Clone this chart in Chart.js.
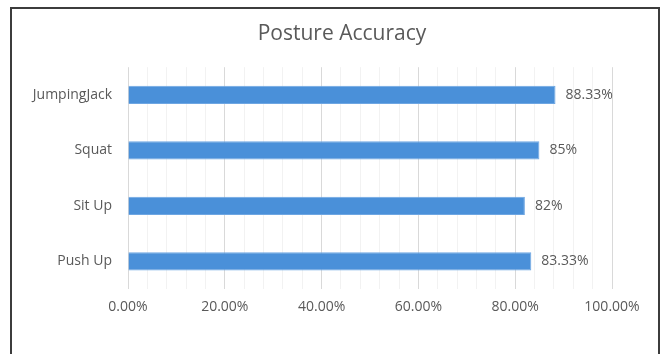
<!DOCTYPE html>
<html>
<head>
<meta charset="utf-8">
<script src="https://cdn.jsdelivr.net/npm/chart.js@4.4.1/dist/chart.umd.min.js"></script>
<style>
    html, body { margin: 0; padding: 0; background: #fff; overflow: hidden; }
    #frame {
        position: absolute; left: 10px; top: 7px; width: 646px; height: 400px;
        border: 2px solid #3c3c3c; border-bottom: none;
    }
    #wrap { position: absolute; left: 0; top: 0; width: 663px; height: 354px; }
</style>
</head>
<body>
<div id="frame"></div>
<div id="wrap"><canvas id="accuracy"></canvas></div>
<script>
const exercises = ['JumpingJack', 'Squat', 'Sit Up', 'Push Up'];
const accuracy = [88.33, 85, 82, 83.33];
const accuracyLabels = ['88.33%', '85%', '82%', '83.33%'];

const textColor = '#595959';
const labelFont = { family: 'Open Sans', size: 14 };

// values written at the end of each bar
const barLabels = {
    id: 'barLabels',
    afterDatasetsDraw(chart) {
        const ctx = chart.ctx;
        const meta = chart.getDatasetMeta(0);
        ctx.save();
        ctx.font = '14px "Open Sans"';
        ctx.fillStyle = textColor;
        ctx.textBaseline = 'middle';
        ctx.textAlign = 'left';
        meta.data.forEach((bar, i) => {
            ctx.fillText(accuracyLabels[i], bar.x + 10, bar.y);
        });
        ctx.restore();
    }
};

// the title is centred on the frame, not on the padded layout width
const titleShift = {
    id: 'titleShift',
    afterLayout(chart) {
        if (chart.titleBlock) {
            chart.titleBlock.left = 21;
            chart.titleBlock.right = chart.width;
        }
    }
};

new Chart(document.getElementById('accuracy'), {
    type: 'bar',
    data: {
        labels: exercises,
        datasets: [{
            label: 'Accuracy',
            data: accuracy,
            backgroundColor: '#4a90d9',
            borderColor: '#6ea6e2',
            borderWidth: 1,
            categoryPercentage: 1,
            barPercentage: 0.33
        }]
    },
    options: {
        indexAxis: 'y',
        responsive: true,
        maintainAspectRatio: false,
        animation: false,
        layout: { padding: { left: 0, right: 51, top: 0, bottom: 30 } },
        plugins: {
            legend: { display: false },
            tooltip: { enabled: false },
            title: {
                display: true,
                text: 'Posture Accuracy',
                color: textColor,
                font: { family: 'Open Sans', size: 21, weight: 'normal' },
                padding: { top: 21, bottom: 21 }
            }
        },
        scales: {
            x: {
                min: 0,
                max: 100,
                border: { display: false },
                grid: {
                    drawTicks: false,
                    color: c => (c.tick && c.tick.value % 20 === 0) ? '#d9d9d9' : '#f2f2f2'
                },
                ticks: {
                    stepSize: 4,
                    autoSkip: false,
                    maxRotation: 0,
                    minRotation: 0,
                    padding: 9,
                    color: textColor,
                    font: labelFont,
                    callback: v => v % 20 === 0 ? v.toFixed(2) + '%' : ''
                }
            },
            y: {
                border: { display: false },
                grid: { display: false, drawTicks: false },
                ticks: { padding: 16, color: textColor, font: labelFont },
                afterFit: scale => { scale.width = 128; }
            }
        }
    },
    plugins: [barLabels, titleShift]
});
</script>
</body>
</html>
